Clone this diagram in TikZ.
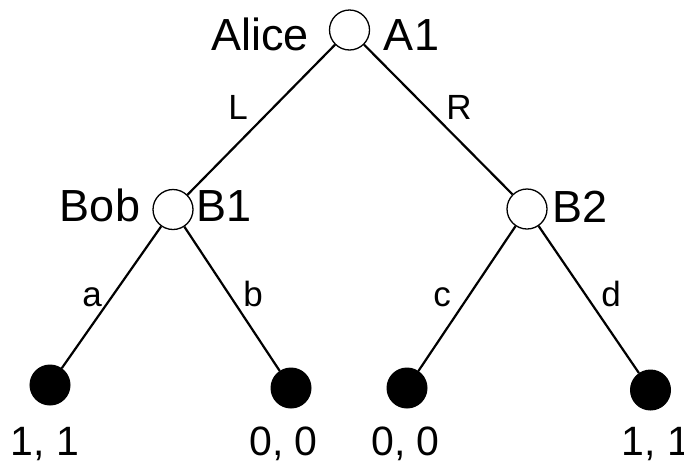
\documentclass[tikz,border=0pt]{standalone}
\usepackage{fontspec}
\setmainfont{Liberation Sans}
\usepackage{tikz}
\newcommand{\nameSize}{\fontsize{45}{50}\selectfont}
\newcommand{\actSize}{\fontsize{35}{40}\selectfont}
\newcommand{\paySize}{\fontsize{41}{46}\selectfont}

\begin{document}
\begin{tikzpicture}[x=1pt,y=-1pt,
  dnode/.style={shape=circle,draw,fill=white,line width=1.3pt,minimum size=40pt,inner sep=0pt},
  leaf/.style={shape=circle,draw,fill=black,line width=1pt,minimum size=40pt,inner sep=0pt},
  move/.style={line width=2.2pt},
  player/.style={anchor=base,inner sep=0pt,font=\nameSize},
  act/.style={anchor=base,inner sep=0pt,font=\actSize},
  payoff/.style={anchor=base,inner sep=0pt,font=\paySize}]
\useasboundingbox (0,0) rectangle (684,464);
\node(A1) at (349.5,30)[dnode] {};
\node(B1) at (173,209.5)[dnode] {};
\node(B2) at (527,209)[dnode] {};
\node(t1) at (50,385)[leaf] {};
\node(t2) at (291,388)[leaf] {};
\node(t3) at (407,388)[leaf] {};
\node(t4) at (650.5,390)[leaf] {};
\draw[move] (A1) -- (B1);
\draw[move] (A1) -- (B2);
\draw[move] (B1) -- (t1);
\draw[move] (B1) -- (t2);
\draw[move] (B2) -- (t3);
\draw[move] (B2) -- (t4);
\node at (260,50)[player]{Alice};
\node at (411.5,50)[player]{A1};
\node at (100,221.5)[player]{Bob};
\node at (224,221.5)[player]{B1};
\node at (580,222)[player]{B2};
\node at (238,119)[act]{L};
\node at (459,119)[act]{R};
\node at (92,306.5)[act]{a};
\node at (253,306.5)[act]{b};
\node at (442,306.5)[act]{c};
\node at (611,306.5)[act]{d};
\node at (45,455)[payoff]{1, 1};
\node at (283.5,455)[payoff]{0, 0};
\node at (405.5,455)[payoff]{0, 0};
\node at (656,455)[payoff]{1, 1};
\end{tikzpicture}
\end{document}
